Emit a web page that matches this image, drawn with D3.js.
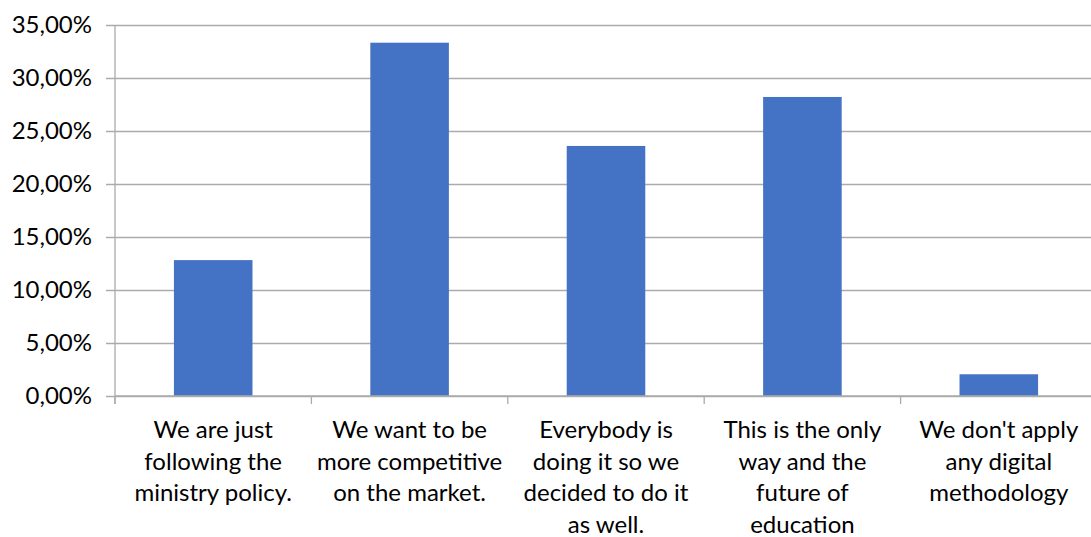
<!DOCTYPE html>
<html>
<head>
<meta charset="utf-8">
<script src="https://cdn.jsdelivr.net/npm/d3@7"></script>
<style>
  html, body { margin: 0; padding: 0; background: #fff; }
  svg { display: block; }
  text { font-family: Lato, "Noto Sans", sans-serif; fill: #000; }
</style>
</head>
<body>
<svg id="chart" width="1091" height="537"></svg>
<script>
// Reasons for applying digital methodology (share of respondents)
const categories = [
  "We are just following the ministry policy.",
  "We want to be more competitive on the market.",
  "Everybody is doing it so we decided to do it as well.",
  "This is the only way and the future of education",
  "We don't apply any digital methodology"
];
const categoryLines = [
  ["We are just", "following the", "ministry policy."],
  ["We want to be", "more competitive", "on the market."],
  ["Everybody is", "doing it so we", "decided to do it", "as well."],
  ["This is the only", "way and the", "future of", "education"],
  ["We don't apply", "any digital", "methodology"]
];
const values = [12.82, 33.33, 23.59, 28.21, 2.05];
const yTicks = [0, 5, 10, 15, 20, 25, 30, 35];

const svg = d3.select("#chart");
const plot = { left: 115, right: 1097, top: 25, bottom: 396 };
const gridColor = "#ababab";
const fontSize = 24;

const x = d3.scaleBand()
  .domain(categories)
  .range([plot.left, plot.right])
  .paddingInner(0.6)
  .paddingOuter(0.3);

const y = d3.scaleLinear().domain([0, 35]).range([plot.bottom, plot.top]);

const fmt = v => v.toFixed(2).replace(".", ",") + "%";

// horizontal gridlines with y tick labels
const yAxis = d3.axisLeft(y)
  .tickValues(yTicks)
  .tickSizeOuter(0)
  .tickPadding(17)
  .tickFormat(fmt);

const gy = svg.append("g")
  .attr("transform", `translate(${plot.left},0)`)
  .call(yAxis);
gy.select(".domain").remove();
gy.selectAll(".tick line")
  .attr("stroke", gridColor).attr("stroke-width", 1.3)
  .attr("x1", -9).attr("x2", plot.right - plot.left);
gy.selectAll(".tick text")
  .attr("font-size", fontSize)
  .attr("font-family", "Lato, sans-serif")
  .attr("fill", "#000");

// bars
svg.append("g")
  .selectAll("rect")
  .data(values)
  .join("rect")
  .attr("x", (d, i) => x(categories[i]))
  .attr("width", x.bandwidth())
  .attr("y", d => y(d))
  .attr("height", d => y(0) - y(d))
  .attr("fill", "#4472C4");

// vertical axis line
svg.append("line")
  .attr("x1", plot.left).attr("x2", plot.left)
  .attr("y1", plot.top).attr("y2", plot.bottom + 8)
  .attr("stroke", gridColor).attr("stroke-width", 1.3);

// category axis baseline and boundary ticks
svg.append("line")
  .attr("x1", plot.left).attr("x2", plot.right)
  .attr("y1", plot.bottom).attr("y2", plot.bottom)
  .attr("stroke", gridColor).attr("stroke-width", 1.3);

const step = x.step();
const boundaries = d3.range(categories.length + 1).map(i => plot.left + i * step);
svg.append("g")
  .selectAll("line")
  .data(boundaries)
  .join("line")
  .attr("x1", d => d).attr("x2", d => d)
  .attr("y1", plot.bottom).attr("y2", plot.bottom + 8)
  .attr("stroke", gridColor).attr("stroke-width", 1.3);

// wrapped category labels
const labels = svg.append("g")
  .selectAll("text")
  .data(categories)
  .join("text")
  .attr("text-anchor", "middle")
  .attr("font-size", fontSize);

labels.each(function (d, i) {
  const t = d3.select(this);
  categoryLines[i].forEach((line, k) => {
    t.append("tspan")
      .attr("x", x(d) + x.bandwidth() / 2)
      .attr("y", 438 + k * 31.6)
      .text(line);
  });
});
</script>
</body>
</html>
